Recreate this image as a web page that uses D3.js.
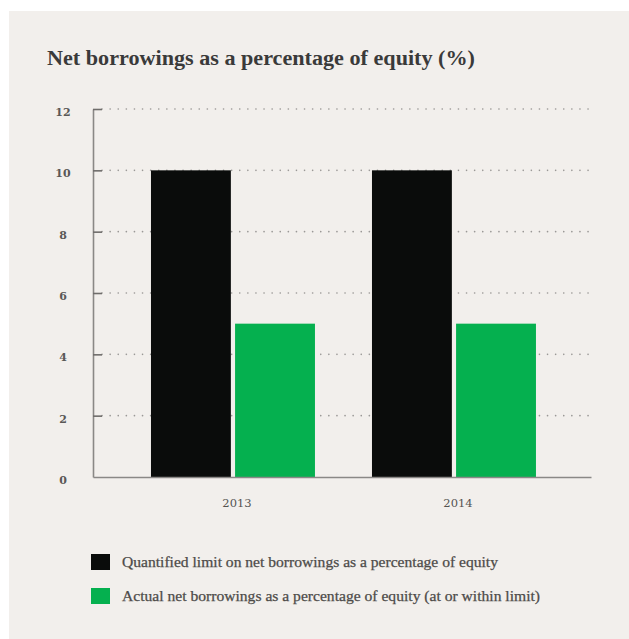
<!DOCTYPE html>
<html>
<head>
<meta charset="utf-8">
<script src="https://cdn.jsdelivr.net/npm/d3@7"></script>
<style>
  html, body { margin: 0; padding: 0; background: #ffffff; }
  svg { display: block; }
</style>
</head>
<body>
<svg id="chart" width="629" height="639"></svg>
<script>
// Chart data
const years = ["2013", "2014"];
const seriesNames = [
  "Quantified limit on net borrowings as a percentage of equity",
  "Actual net borrowings as a percentage of equity (at or within limit)"
];
const limitValues = [10, 10];
const actualValues = [5, 5];
const yTicks = [0, 2, 4, 6, 8, 10, 12];
const seriesColors = ["#0a0c0b", "#05b04f"];

const svg = d3.select("#chart");

// Panel background
svg.append("rect")
  .attr("x", 9).attr("y", 11)
  .attr("width", 620).attr("height", 628)
  .attr("fill", "#f2efec");

// Title
svg.append("text")
  .attr("x", 47).attr("y", 65)
  .attr("font-family", "'Liberation Serif', serif")
  .attr("font-weight", "bold")
  .attr("font-size", 20)
  .attr("fill", "#3a3a3a")
  .attr("textLength", 428)
  .attr("lengthAdjust", "spacingAndGlyphs")
  .text("Net borrowings as a percentage of equity (%)");

const plot = { left: 93, right: 591, top: 109, bottom: 477 };

const y = d3.scaleLinear().domain([0, 12]).range([plot.bottom, plot.top]);
const x0 = d3.scaleBand().domain(years).range([plot.left, plot.right])
  .paddingInner(0.258).paddingOuter(0.2557).align(0.513);
const x1 = d3.scaleBand().domain([0, 1]).range([0, x0.bandwidth()]).paddingInner(0.05);

// Dotted gridlines
svg.append("g")
  .selectAll("line")
  .data(yTicks.filter(d => d > 0))
  .join("line")
  .attr("x1", plot.left + 9).attr("x2", plot.right)
  .attr("y1", d => y(d)).attr("y2", d => y(d))
  .attr("stroke", "#9a9896")
  .attr("stroke-width", 1.6)
  .attr("stroke-linecap", "round")
  .attr("stroke-dasharray", "0.1,8");

// Bars
const rows = years.map((yr, i) => ({ year: yr, values: [limitValues[i], actualValues[i]] }));
svg.append("g")
  .selectAll("g")
  .data(rows)
  .join("g")
  .attr("transform", d => `translate(${x0(d.year)},0)`)
  .selectAll("rect")
  .data(d => d.values.map((v, k) => ({ k, v })))
  .join("rect")
  .attr("x", d => x1(d.k))
  .attr("width", x1.bandwidth())
  .attr("y", d => y(d.v))
  .attr("height", d => y(0) - y(d.v))
  .attr("fill", d => seriesColors[d.k]);

// Y axis with inward ticks
const yAxis = d3.axisLeft(y).tickValues(yTicks).tickSize(-9).tickPadding(30).tickSizeOuter(0);
const yg = svg.append("g").attr("transform", `translate(${plot.left},0)`).call(yAxis);
yg.select(".domain").attr("stroke", "#8a8886").attr("stroke-width", 1.6);
yg.selectAll(".tick line").attr("stroke", "#6f6d6b").attr("stroke-width", 1.6)
  .filter(d => d === 0).remove();
yg.selectAll(".tick text")
  .attr("font-family", "'DejaVu Serif', serif")
  .attr("font-size", 11)
  .attr("font-weight", "bold")
  .attr("fill", "#5a5856")
  .attr("text-anchor", "middle")
  .attr("dy", "0.6em");

// X axis baseline and labels
const xAxis = d3.axisBottom(x0).tickSize(0).tickPadding(22).tickSizeOuter(0);
const xg = svg.append("g").attr("transform", `translate(0,${plot.bottom})`).call(xAxis);
xg.select(".domain").attr("stroke", "#8a8886").attr("stroke-width", 1.6);
xg.selectAll(".tick text")
  .attr("font-family", "'DejaVu Serif', serif")
  .attr("font-size", 11.5)
  .attr("fill", "#555351")
  .attr("dx", 4);

// Legend
const legendWidths = [376, 418];
const legend = svg.append("g");
seriesNames.forEach((name, i) => {
  const gy = 554 + i * 34;
  legend.append("rect")
    .attr("x", 91).attr("y", gy)
    .attr("width", 19).attr("height", 16)
    .attr("fill", seriesColors[i]);
  legend.append("text")
    .attr("x", 122).attr("y", gy + 13)
    .attr("font-family", "'Liberation Serif', serif")
    .attr("font-size", 14.5)
    .attr("fill", "#4d4b49")
    .attr("stroke", "#4d4b49")
    .attr("stroke-width", 0.25)
    .attr("textLength", legendWidths[i])
    .attr("lengthAdjust", "spacingAndGlyphs")
    .text(name);
});
</script>
</body>
</html>
